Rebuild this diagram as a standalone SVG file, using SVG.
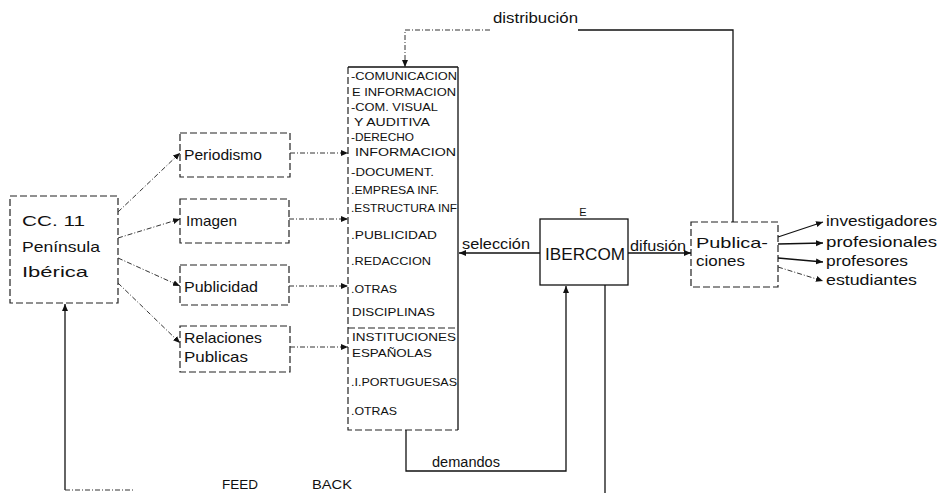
<svg xmlns="http://www.w3.org/2000/svg" width="940" height="493" viewBox="0 0 940 493">
<style>
text{font-family:"Liberation Sans","DejaVu Sans",sans-serif;fill:#111}
.lbl{font-size:15px}
.lst{font-size:11.5px}
.box{fill:none;stroke:#222;stroke-width:1.2;stroke-dasharray:7 3}
.sbox{fill:none;stroke:#111;stroke-width:1.3}
.dl{fill:none;stroke:#333;stroke-width:1;stroke-dasharray:5 2 1 2}
.sl{fill:none;stroke:#111;stroke-width:1.3}
</style>
<defs>
<marker id="ah" markerWidth="8" markerHeight="8" refX="7" refY="4" orient="auto" markerUnits="userSpaceOnUse">
<path d="M0,1 L7,4 L0,7 Z" fill="#111"/>
</marker>
</defs>
<rect width="940" height="493" fill="#fff"/>

<g id="cc11">
<rect class="box" x="10" y="196" width="108" height="107"/>
<text class="lbl" x="22" y="226" font-size="16" textLength="63" lengthAdjust="spacingAndGlyphs">CC. 11</text>
<text class="lbl" x="22" y="252" font-size="16" textLength="78" lengthAdjust="spacingAndGlyphs">Península</text>
<text class="lbl" x="22" y="277" font-size="16" textLength="66" lengthAdjust="spacingAndGlyphs">Ibérica</text>
</g>

<g id="periodismo">
<rect class="box" x="180" y="133" width="110" height="44"/>
<text class="lbl" x="184" y="160" textLength="78" lengthAdjust="spacingAndGlyphs">Periodismo</text>
</g>
<g id="imagen">
<rect class="box" x="180" y="199" width="109" height="44"/>
<text class="lbl" x="186" y="226" textLength="51" lengthAdjust="spacingAndGlyphs">Imagen</text>
</g>
<g id="publicidad">
<rect class="box" x="180" y="265" width="109" height="40"/>
<text class="lbl" x="184" y="292" textLength="74" lengthAdjust="spacingAndGlyphs">Publicidad</text>
</g>
<g id="relaciones">
<rect class="box" x="180" y="326" width="110" height="46"/>
<text class="lbl" x="184" y="343" textLength="78" lengthAdjust="spacingAndGlyphs">Relaciones</text>
<text class="lbl" x="184" y="362" textLength="64" lengthAdjust="spacingAndGlyphs">Publicas</text>
</g>

<g id="disciplinas">
<path class="box" d="M348,67 L348,430 L458,430"/>
<path class="sbox" d="M348,67 L458,67 M458,67 L458,430"/>
<path class="box" d="M348,328 L458,328"/>
<text class="lst" x="351" y="80" textLength="106" lengthAdjust="spacingAndGlyphs">-COMUNICACION</text>
<text class="lst" x="352" y="96" textLength="104" lengthAdjust="spacingAndGlyphs">E INFORMACION</text>
<text class="lst" x="351" y="111" textLength="87" lengthAdjust="spacingAndGlyphs">-COM. VISUAL</text>
<text class="lst" x="354" y="126" textLength="76" lengthAdjust="spacingAndGlyphs">Y AUDITIVA</text>
<text class="lst" x="351" y="141" textLength="63" lengthAdjust="spacingAndGlyphs">-DERECHO</text>
<text class="lst" x="355" y="156" textLength="101" lengthAdjust="spacingAndGlyphs">INFORMACION</text>
<text class="lst" x="351" y="176" textLength="83" lengthAdjust="spacingAndGlyphs">-DOCUMENT.</text>
<text class="lst" x="351" y="194" textLength="88" lengthAdjust="spacingAndGlyphs">.EMPRESA INF.</text>
<text class="lst" x="351" y="212" textLength="106" lengthAdjust="spacingAndGlyphs">.ESTRUCTURA INF</text>
<text class="lst" x="351" y="239" textLength="86" lengthAdjust="spacingAndGlyphs">.PUBLICIDAD</text>
<text class="lst" x="351" y="265" textLength="80" lengthAdjust="spacingAndGlyphs">.REDACCION</text>
<text class="lst" x="351" y="293" textLength="46" lengthAdjust="spacingAndGlyphs">.OTRAS</text>
<text class="lst" x="352" y="316" textLength="83" lengthAdjust="spacingAndGlyphs">DISCIPLINAS</text>
<text class="lst" x="352" y="341" textLength="104" lengthAdjust="spacingAndGlyphs">INSTITUCIONES</text>
<text class="lst" x="352" y="357" textLength="80" lengthAdjust="spacingAndGlyphs">ESPAÑOLAS</text>
<text class="lst" x="351" y="386" textLength="106" lengthAdjust="spacingAndGlyphs">.I.PORTUGUESAS</text>
<text class="lst" x="351" y="415" textLength="46" lengthAdjust="spacingAndGlyphs">.OTRAS</text>
</g>

<g id="ibercom">
<rect class="sbox" x="540" y="219" width="88" height="66"/>
<text x="583" y="216" font-size="11" text-anchor="middle">E</text>
<text x="545" y="260" font-size="16" textLength="80" lengthAdjust="spacingAndGlyphs">IBERCOM</text>
</g>

<g id="publicaciones">
<rect class="box" x="691" y="222" width="87" height="65"/>
<text class="lbl" x="696" y="248" textLength="72" lengthAdjust="spacingAndGlyphs">Publica-</text>
<text class="lbl" x="696" y="266" textLength="49" lengthAdjust="spacingAndGlyphs">ciones</text>
</g>

<g id="destinatarios">
<text class="lbl" x="826" y="226" textLength="111" lengthAdjust="spacingAndGlyphs">investigadores</text>
<text class="lbl" x="826" y="247" textLength="111" lengthAdjust="spacingAndGlyphs">profesionales</text>
<text class="lbl" x="826" y="266" textLength="82" lengthAdjust="spacingAndGlyphs">profesores</text>
<text class="lbl" x="826" y="285" textLength="91" lengthAdjust="spacingAndGlyphs">estudiantes</text>
</g>

<g id="labels">
<text x="493" y="23" font-size="15" textLength="85" lengthAdjust="spacingAndGlyphs">distribución</text>
<text x="462" y="249" font-size="14" textLength="68" lengthAdjust="spacingAndGlyphs">selección</text>
<text x="630" y="251" font-size="14" textLength="56" lengthAdjust="spacingAndGlyphs">difusión</text>
<text x="432" y="467" font-size="14" textLength="68" lengthAdjust="spacingAndGlyphs">demandos</text>
<text x="222" y="489" font-size="13" textLength="36" lengthAdjust="spacingAndGlyphs">FEED</text>
<text x="312" y="489" font-size="13" textLength="40" lengthAdjust="spacingAndGlyphs">BACK</text>
</g>

<g id="connectors">
<path class="dl" d="M118,212 L180,153" marker-end="url(#ah)"/>
<path class="dl" d="M118,238 L180,219" marker-end="url(#ah)"/>
<path class="dl" d="M118,258 L180,286" marker-end="url(#ah)"/>
<path class="dl" d="M118,283 L180,343" marker-end="url(#ah)"/>
<path class="dl" d="M290,153 L348,153" marker-end="url(#ah)"/>
<path class="dl" d="M289,219 L348,219" marker-end="url(#ah)"/>
<path class="dl" d="M289,286 L348,286" marker-end="url(#ah)"/>
<path class="dl" d="M290,347 L348,347" marker-end="url(#ah)"/>
<path class="sl" d="M540,253 L459,253" marker-end="url(#ah)"/>
<path class="sl" d="M628,253 L691,253" marker-end="url(#ah)"/>
<path class="sl" d="M733,222 L733,30 L578,30"/>
<path class="dl" d="M490,30 L405,30 L405,67" marker-end="url(#ah)"/>
<path class="sl" d="M406,430 L406,471 L566,471 L566,286" marker-end="url(#ah)"/>
<path class="sl" d="M605,285 L605,493" stroke-width="2"/>
<path class="sl" d="M65,490 L65,304" stroke-width="1.6" marker-end="url(#ah)"/>
<path class="dl" d="M65,490 L135,490"/>
<path class="sl" d="M778,237 L823,222" stroke-width="1" marker-end="url(#ah)"/>
<path class="sl" d="M778,244 L823,243" stroke-width="1" marker-end="url(#ah)"/>
<path class="sl" d="M778,258 L823,262" stroke-width="1" marker-end="url(#ah)"/>
<path class="dl" d="M778,267 L823,281" marker-end="url(#ah)"/>
</g>
</svg>
